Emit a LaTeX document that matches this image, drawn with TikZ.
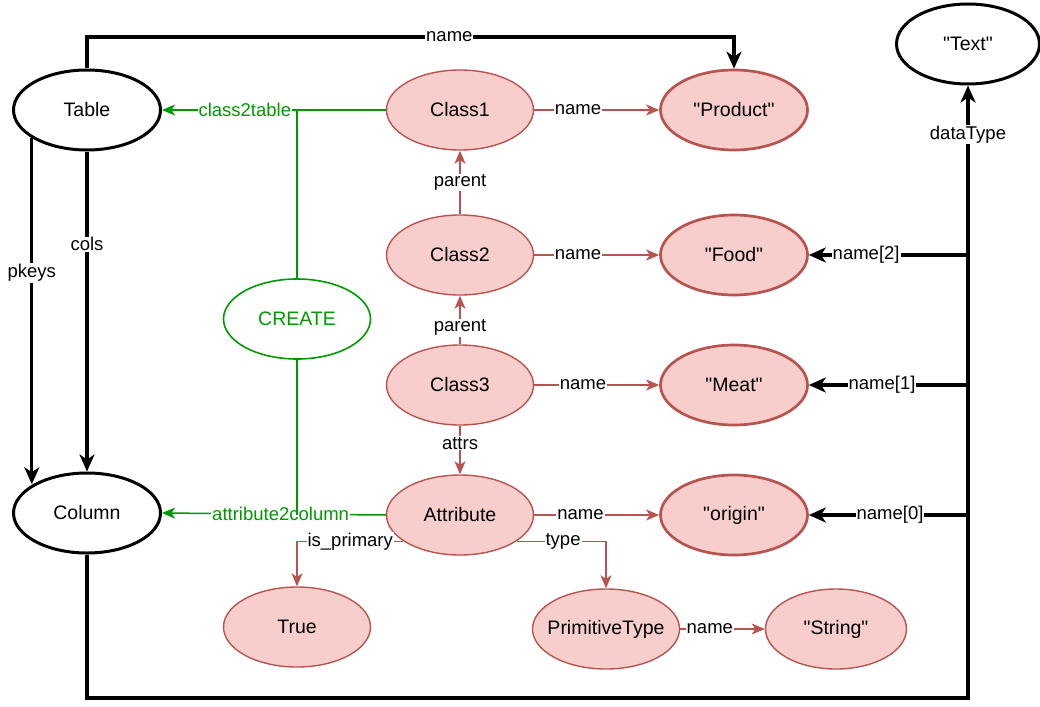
\documentclass[tikz,border=0pt]{standalone}
\usepackage{fontspec}
\setmainfont{Liberation Sans}
\usetikzlibrary{arrows.meta,shapes.geometric}
\definecolor{rfill}{HTML}{F8CECC}
\definecolor{rline}{HTML}{B85450}
\definecolor{grn}{HTML}{009900}
\newcommand{\qstr}[1]{\textquotedbl#1\textquotedbl}

\tikzset{
  obj/.style={ellipse, draw, minimum width=147pt, minimum height=80pt,
    inner sep=0pt, font=\fontsize{19.5}{22}\selectfont},
  blkobj/.style={obj, line width=3pt, fill=white},
  redobj/.style={obj, draw=rline, fill=rfill, line width=1.4pt},
  valobj/.style={redobj, line width=2.7pt},
  grnobj/.style={obj, draw=grn, text=grn, line width=1.6pt},
  lbl/.style={fill=white, inner sep=1pt, font=\fontsize{18.5}{20}\selectfont},
  blkedge/.style={line width=3.2pt, -{Stealth[length=17pt,width=15pt,inset=5pt]}},
  rededge/.style={draw=rline, line width=1.5pt, -{Stealth[length=13pt,width=11pt,inset=3.5pt]}},
  grnedge/.style={draw=grn, line width=1.5pt, -{Stealth[length=13pt,width=11pt,inset=3.5pt]}},
}

\begin{document}
\begin{tikzpicture}[x=1pt,y=-1pt]
  \useasboundingbox (0,0) rectangle (1040,706);

  % schema side
  \node[blkobj] (tab) at (87,110) {Table};
  \node[blkobj] (col) at (87,513) {Column};
  \node[blkobj, minimum width=143pt] (txt) at (968,44) {\qstr{Text}};

  % model side
  \node[redobj] (cls1) at (460,110) {Class1};
  \node[redobj] (cls2) at (460,255) {Class2};
  \node[redobj] (cls3) at (460,385) {Class3};
  \node[redobj] (attr) at (460,515) {Attribute};
  \node[valobj] (prod) at (734,110) {\qstr{Product}};
  \node[valobj] (food) at (734,255) {\qstr{Food}};
  \node[valobj] (meat) at (734,385) {\qstr{Meat}};
  \node[valobj] (orig) at (734,515) {\qstr{origin}};
  \node[redobj] (tru) at (297,627) {True};
  \node[redobj, inner xsep=-12pt] (ptype) at (606,629) {PrimitiveType};
  \node[redobj, minimum width=141pt] (str) at (836,629) {\qstr{String}};
  \node[grnobj] (create) at (297,319) {CREATE};

  \coordinate (toprail) at (0,37);
  \coordinate (botrail) at (0,698);

  % black links
  \draw[blkedge] (tab.north) -- (tab.north |- toprail)
    -- node[lbl,pos=0.56]{name} (prod.north |- toprail) -- (prod.north);
  \draw[blkedge] (tab.207.6) -- node[lbl,pos=0.39]{pkeys} (tab.207.6 |- col.152.4);
  \draw[blkedge] (tab.south) -- node[lbl,pos=0.29]{cols} (col.north);
  \draw[blkedge] (col.south) -- (col.south |- botrail)
    -| node[lbl,pos=0.96]{dataType} (txt.south);
  \coordinate (rail2) at (txt.south |- food.east);
  \coordinate (rail1) at (txt.south |- meat.east);
  \coordinate (rail0) at (txt.south |- orig.east);
  \draw[blkedge] (rail2) -- node[lbl,pos=0.64]{name[2]} (food.east);
  \draw[blkedge] (rail1) -- node[lbl,pos=0.54]{name[1]} (meat.east);
  \draw[blkedge] (rail0) -- node[lbl,pos=0.49]{name[0]} (orig.east);

  % red links
  \draw[rededge] (cls1.east) -- node[lbl,pos=0.35]{name} (prod.west);
  \draw[rededge] (cls2.east) -- node[lbl,pos=0.35]{name} (food.west);
  \draw[rededge] (cls3.east) -- node[lbl,pos=0.39]{name} (meat.west);
  \draw[rededge] (attr.east) -- node[lbl,pos=0.37]{name} (orig.west);
  \draw[rededge] (ptype.east) -- node[lbl,pos=0.35]{name} (str.west);
  \draw[rededge] (cls2.north) -- node[lbl]{parent} (cls1.south);
  \draw[rededge] (cls3.north) -- node[lbl,pos=0.34]{parent} (cls2.south);
  \draw[rededge] (cls3.south) -- node[lbl,pos=0.36]{attrs} (attr.north);
  \draw[rededge] (attr.205) -| node[lbl,pos=0.25]{is\_primary} (tru.north);
  \draw[rededge] (attr.335) -| node[lbl,pos=0.26]{type} (ptype.north);

  % green mapping
  \draw[grnedge] (cls1.west) -- node[lbl,text=grn,pos=0.63]{class2table} (tab.east);
  \draw[grnedge] (attr.west) -- node[lbl,text=grn,pos=0.47]{attribute2column} (col.east);
  \draw[draw=grn, line width=1.5pt] (create.north) -- (create.north |- cls1.west);
  \draw[draw=grn, line width=1.5pt] (create.south) -- (create.south |- attr.west);
\end{tikzpicture}
\end{document}
